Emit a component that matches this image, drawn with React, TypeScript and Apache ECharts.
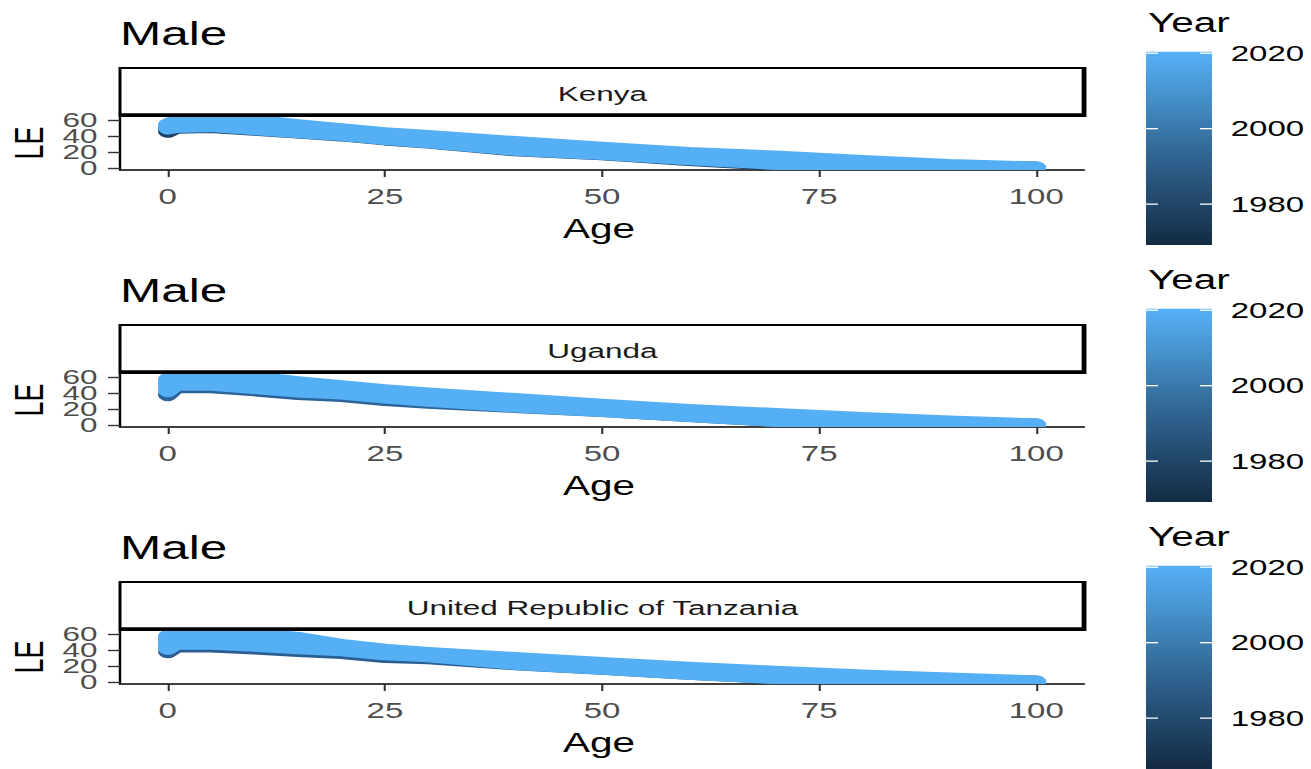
import React, { useEffect, useRef } from "react";
import * as echarts from "echarts";

// ---------------- data ----------------
const countries = ["Kenya", "Uganda", "United Republic of Tanzania"];
const ages = [0, 1, 5, 10, 15, 20, 25, 30, 40, 50, 60, 70, 80, 90, 100];

// upper edge of the band (highest LE over the years)
const kenyaUpper = [54, 59, 61, 59, 53, 48, 43, 39.5, 32, 25, 18.5, 14, 8.5, 3.5, 0.5];
const ugandaUpper = [57, 61, 62, 59, 53, 48, 43, 39, 32, 25, 18.5, 13.5, 8.5, 4, 0.5];
const tanzaniaUpper = [57, 61, 62, 60, 54.5, 46, 40, 36, 29.5, 23.5, 17.5, 12.5, 8, 4, 0.5];

// lower edge of the recent (light) years
const kenyaLower = [50, 52, 53, 49, 45.5, 42, 37, 33, 23.5, 18.5, 12, 6, 3, 1.5, 0.5];
const ugandaLower = [43, 51, 51, 47, 42.5, 40, 35, 31, 24, 18.5, 12.2, 6, 3, 1.5, 0.5];
const tanzaniaLower = [42, 48.5, 48.5, 46, 43, 40.5, 35.5, 33, 23.5, 17.5, 11.2, 5.8, 3, 1.5, 0.5];

// lowest LE over all years (early, dark years)
const kenyaMin = [46, 51, 52, 48.5, 45, 41.5, 36.5, 32.5, 23, 18, 11, 5, 3, 1.5, 0.5];
const ugandaMin = [38, 48, 48, 44, 39.5, 37, 32, 28.5, 23.5, 18.5, 12.2, 6, 3, 1.5, 0.5];
const tanzaniaMin = [38, 45, 45, 42.6, 39.5, 37, 32, 30.5, 23, 17.5, 11.2, 5.8, 3, 1.5, 0.5];

const uppers = [kenyaUpper, ugandaUpper, tanzaniaUpper];
const lowers = [kenyaLower, ugandaLower, tanzaniaLower];
const mins = [kenyaMin, ugandaMin, tanzaniaMin];

const xTicks = [0, 25, 50, 75, 100];
const yTicks = [0, 20, 40, 60];
const yearTicks = [1980, 2000, 2020];
const yearLimitsLow = [1969.2, 1969.2, 1966.5];
const yearLimitsHigh = [2020.4, 2020.4, 2020.4];

// ---------------- layout / style ----------------
const STRETCH = 1.5;
const W0 = 1311 / STRETCH;
const H = 769;
const DY = 257;
const GL = 80;
const GR = 722.7;
const GT = 116;
const GB = 170;
const FONT = "Liberation Sans, Arial, sans-serif";
const BAND = "#55AFF5";
const DARKS = ["#1E4266", "#2C6398", "#2A5E92"];
const BAR_TOP = 51.7;
const PX_PER_YEAR = 3.773;
const LINE_W = 13;

export default function App() {
  const ref = useRef<HTMLDivElement>(null);

  useEffect(() => {
    if (!ref.current) return;
    const chart = echarts.init(ref.current, undefined, { renderer: "svg" });

    const grids: any[] = [];
    const xAxes: any[] = [];
    const yAxes: any[] = [];
    const series: any[] = [];

    countries.forEach((_name, i) => {
      const dy = DY * i;
      grids.push({ left: GL, top: GT + dy, width: GR - GL, height: GB - GT, containLabel: false });
      xAxes.push({
        type: "value",
        gridIndex: i,
        min: -5.5,
        max: 105.5,
        axisLine: { show: true, onZero: false, lineStyle: { color: "#000", width: 1.6 } },
        axisTick: { show: true, customValues: xTicks, length: 7, lineStyle: { color: "#333", width: 1.4 } },
        axisLabel: {
          customValues: xTicks, fontSize: 22, color: "#4D4D4D", margin: 16, fontFamily: FONT,
          showMinLabel: true, showMaxLabel: true,
        },
        splitLine: { show: false },
      });
      yAxes.push({
        type: "value",
        gridIndex: i,
        min: -2.1,
        max: 65,
        axisLine: { show: true, onZero: false, lineStyle: { color: "#000", width: 1.6 } },
        axisTick: { show: true, customValues: yTicks, length: 8, lineStyle: { color: "#333", width: 1.4 } },
        axisLabel: { show: false },
        splitLine: { show: false },
      });

      const mn = mins[i];
      series.push({
        type: "custom",
        xAxisIndex: i,
        yAxisIndex: i,
        coordinateSystem: "cartesian2d",
        clip: true,
        data: [[0, 0]],
        z: 2,
        renderItem: (_p: any, api: any) => {
          const pts = ages.map((a, k) => api.coord([a, mn[k]]));
          return {
            type: "polyline",
            shape: { points: pts },
            style: { fill: "none", stroke: DARKS[i], lineWidth: LINE_W, lineJoin: "round", lineCap: "round" },
          };
        },
      });

      const up = uppers[i];
      const lo = lowers[i];
      series.push({
        type: "custom",
        xAxisIndex: i,
        yAxisIndex: i,
        coordinateSystem: "cartesian2d",
        clip: true,
        data: [[0, 0]],
        z: 3,
        renderItem: (_p: any, api: any) => {
          const pts: number[][] = [];
          for (let k = 0; k < ages.length; k++) pts.push(api.coord([ages[k], up[k]]));
          for (let k = ages.length - 1; k >= 0; k--) pts.push(api.coord([ages[k], lo[k]]));
          return {
            type: "polygon",
            shape: { points: pts },
            style: { fill: BAND, stroke: BAND, lineWidth: LINE_W, lineJoin: "round", lineCap: "round" },
          };
        },
      });
    });

    chart.setOption({
      animation: false,
      backgroundColor: "#fff",
      textStyle: { fontFamily: FONT },
      grid: grids,
      xAxis: xAxes,
      yAxis: yAxes,
      series,
    });

    const graphics: any[] = [];
    countries.forEach((name, i) => {
      const dy = DY * i;
      // y tick labels, placed through the axis scale
      yTicks.forEach((v) => {
        const py = chart.convertToPixel({ yAxisIndex: i } as any, v) as unknown as number;
        graphics.push({
          type: "text", x: GL - 15, y: py,
          style: { text: String(v), font: `21px ${FONT}`, fill: "#4D4D4D", align: "right", verticalAlign: "middle" },
        });
      });
      // title
      graphics.push({
        type: "text", x: GL, y: 33.5 + dy,
        style: { text: "Male", font: `33px ${FONT}`, fill: "#000", verticalAlign: "middle", align: "left" },
      });
      // strip
      graphics.push({
        type: "rect", shape: { x: GL, y: 68 + dy, width: 643.3, height: 48 },
        style: { fill: "#fff", stroke: "#000", lineWidth: 2 }, z: 10,
      });
      graphics.push({
        type: "line", shape: { x1: GL, y1: 115 + dy, x2: 723.3, y2: 115 + dy },
        style: { stroke: "#000", lineWidth: 3.5 }, z: 11,
      });
      graphics.push({
        type: "line", shape: { x1: 722.5, y1: 68 + dy, x2: 722.5, y2: 116 + dy },
        style: { stroke: "#000", lineWidth: 2.8 }, z: 11,
      });
      graphics.push({
        type: "text", x: (GL + 723.3) / 2, y: 94 + dy, z: 12,
        style: { text: name, font: `21px ${FONT}`, fill: "#1A1A1A", align: "center", verticalAlign: "middle" },
      });
      // axis titles
      graphics.push({
        type: "text", x: (GL + GR) / 2 - 2, y: 229 + dy,
        style: { text: "Age", font: `27px ${FONT}`, fill: "#000", align: "center", verticalAlign: "middle" },
      });
      graphics.push({
        type: "text", x: 19, y: 143 + dy, rotation: Math.PI / 2,
        style: { text: "LE", font: `27px ${FONT}`, fill: "#000", align: "center", verticalAlign: "middle" },
      });
      // legend
      graphics.push({
        type: "text", x: 765.3, y: 23 + dy,
        style: { text: "Year", font: `27px ${FONT}`, fill: "#000", align: "left", verticalAlign: "middle" },
      });
      const lowY = yearLimitsLow[i];
      const highY = yearLimitsHigh[i];
      const barTop = BAR_TOP + dy;
      const barH = (highY - lowY) * PX_PER_YEAR;
      graphics.push({
        type: "rect", shape: { x: 764, y: barTop, width: 44, height: barH },
        style: {
          fill: new echarts.graphic.LinearGradient(0, 0, 0, 1, [
            { offset: 0, color: "#56B1F7" },
            { offset: 0.25, color: "#448EC8" },
            { offset: 0.5, color: "#336A98" },
            { offset: 0.75, color: "#234A6E" },
            { offset: 1, color: "#132B43" },
          ]),
        },
      });
      yearTicks.forEach((yr) => {
        const ty = barTop + (highY - yr) * PX_PER_YEAR;
        graphics.push({ type: "line", shape: { x1: 764, y1: ty, x2: 772, y2: ty }, style: { stroke: "#fff", lineWidth: 1.3 } });
        graphics.push({ type: "line", shape: { x1: 800, y1: ty, x2: 808, y2: ty }, style: { stroke: "#fff", lineWidth: 1.3 } });
        graphics.push({
          type: "text", x: 820.5, y: ty,
          style: { text: String(yr), font: `22px ${FONT}`, fill: "#000", align: "left", verticalAlign: "middle" },
        });
      });
    });

    chart.setOption({ graphic: { elements: graphics } });

    return () => chart.dispose();
  }, []);

  return (
    <div style={{ position: "absolute", left: 0, top: 0, width: 1311, height: H, overflow: "hidden", background: "#fff" }}>
      <div
        ref={ref}
        style={{ width: W0, height: H, transform: `scaleX(${STRETCH})`, transformOrigin: "0 0" }}
      />
    </div>
  );
}
